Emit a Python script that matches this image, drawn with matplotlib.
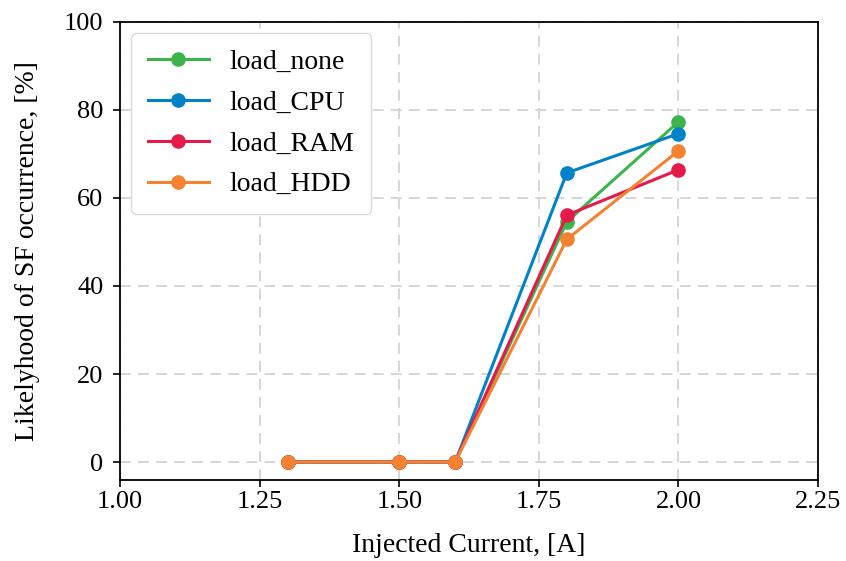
import matplotlib.pyplot as plt

plt.rcParams['font.family'] = ['Liberation Serif', 'DejaVu Serif']

# injected current, [A]
current = [1.3, 1.5, 1.6, 1.8, 2.0]

# likelyhood of SF occurrence, [%]
load_none = [0, 0, 0, 54.6, 77.3]
load_CPU = [0, 0, 0, 65.7, 74.6]
load_RAM = [0, 0, 0, 56.1, 66.4]
load_HDD = [0, 0, 0, 50.6, 70.7]

series = [("load_none", load_none, "#3cb44b"),
          ("load_CPU", load_CPU, "#0082c8"),
          ("load_RAM", load_RAM, "#e6194b"),
          ("load_HDD", load_HDD, "#f58231")]

xticks = [1.00, 1.25, 1.50, 1.75, 2.00, 2.25]
yticks = [0, 20, 40, 60, 80, 100]

fig = plt.figure(figsize=(8.46, 5.61), dpi=100)
ax = fig.add_axes([0.142, 0.145, 0.825, 0.816])

for name, vals, col in series:
    ax.plot(current, vals, marker='o', markersize=9.5, linewidth=2.2, color=col, label=name)

ax.set_xlim(1.0, 2.25)
ax.set_ylim(-4, 100)
ax.set_xticks(xticks)
ax.set_xticklabels(["%.2f" % v for v in xticks])
ax.set_yticks(yticks)
ax.tick_params(labelsize=19, length=5, width=1.2)
ax.tick_params(axis='y', pad=7)
ax.grid(True, linestyle=(0, (6, 4)), color='#d3d3d3', linewidth=1.3)
ax.set_axisbelow(True)
for sp in ax.spines.values():
    sp.set_linewidth(1.3)

ax.set_xlabel("Injected Current, [A]", fontsize=20, labelpad=14)
ax.set_ylabel("Likelyhood of SF occurrence, [%]", fontsize=20, labelpad=17)
ax.legend(loc='upper left', fontsize=20, framealpha=1, edgecolor='#d9d9d9',
          handlelength=2.2, borderpad=0.6, labelspacing=0.55, handletextpad=0.75,
          borderaxespad=0.4)

fig.savefig("out.png", dpi=100)
